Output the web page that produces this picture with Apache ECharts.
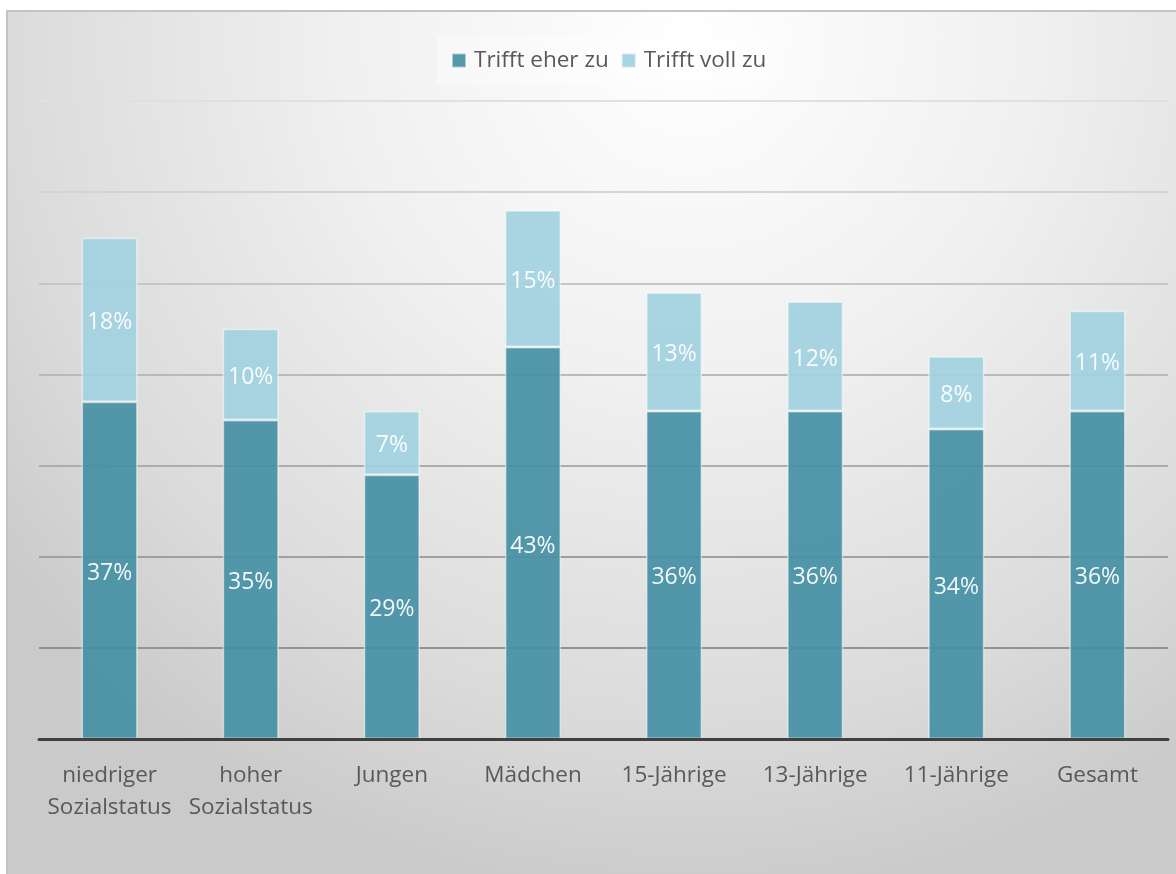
<!DOCTYPE html>
<html>
<head>
<meta charset="utf-8">
<script src="https://cdn.jsdelivr.net/npm/echarts@6/dist/echarts.min.js"></script>
<style>
  html, body { margin: 0; padding: 0; background: #ffffff; }
  #chart { width: 1176px; height: 874px; }
</style>
</head>
<body>
<div id="chart"></div>
<script>
// Zustimmung nach Gruppen, gestapelt: "Trifft eher zu" + "Trifft voll zu" (Prozent)
const categories = ['niedriger\nSozialstatus', 'hoher\nSozialstatus', 'Jungen', 'Mädchen',
                    '15-Jährige', '13-Jährige', '11-Jährige', 'Gesamt'];
const eherZu = [37, 35, 29, 43, 36, 36, 34, 36];
const vollZu = [18, 10, 7, 15, 13, 12, 8, 11];
const seriesNames = ['Trifft eher zu', 'Trifft voll zu'];

const FONT = '"Open Sans", "Noto Sans", sans-serif';
const chart = echarts.init(document.getElementById('chart'), null, { renderer: 'canvas' });

const pct = p => p.value + '%';

const valueLabel = {
  show: true,
  position: 'inside',
  formatter: pct,
  fontFamily: FONT,
  fontSize: 23,
  color: '#ffffff',
  offset: [0, 3]
};

chart.setOption({
  animation: false,
  textStyle: { fontFamily: FONT },
  graphic: [
    {
      type: 'rect',
      z: -10,
      silent: true,
      shape: { x: 7, y: 11, width: 1175, height: 870 },
      style: {
        fill: new echarts.graphic.RadialGradient(0.58, 0.03, 1.0, [
          { offset: 0, color: '#ffffff' },
          { offset: 0.4, color: '#f0f0f0' },
          { offset: 0.78, color: '#dbdbdb' },
          { offset: 1, color: '#cacaca' }
        ]),
        stroke: '#c4c4c4',
        lineWidth: 2
      }
    }
  ],
  legend: {
    top: 36,
    left: 437,
    data: seriesNames,
    icon: 'rect',
    itemWidth: 14,
    itemHeight: 14,
    itemGap: 12,
    padding: [13, 4, 13, 14],
    backgroundColor: 'rgba(255,255,255,0.35)',
    textStyle: { fontFamily: FONT, fontSize: 22.5, color: '#595959', padding: [0, 0, 0, 3] }
  },
  grid: { left: 39, right: 8, top: 101, bottom: 135, containLabel: false },
  xAxis: {
    type: 'category',
    data: categories,
    axisLine: { lineStyle: { color: '#404040', width: 3 } },
    axisTick: { show: false },
    axisLabel: {
      interval: 0,
      margin: 21,
      fontFamily: FONT,
      fontSize: 22.5,
      lineHeight: 32,
      color: '#595959'
    },
    z: 10
  },
  yAxis: {
    type: 'value',
    min: 0,
    max: 70,
    interval: 10,
    axisLine: { show: false },
    axisTick: { show: false },
    axisLabel: { show: false },
    splitLine: {
      lineStyle: {
        width: 2,
        color: new echarts.graphic.LinearGradient(0, 101, 0, 739, [
          { offset: 0, color: '#e0e0e0' },
          { offset: 1, color: '#868686' }
        ], true)
      }
    }
  },
  series: [
    {
      name: seriesNames[0],
      type: 'bar',
      stack: 'total',
      data: eherZu,
      barWidth: 56,
      itemStyle: {
        color: '#4690a5',
        opacity: 0.93,
        borderColor: 'rgba(255,255,255,0.55)',
        borderWidth: 1.5
      },
      label: valueLabel
    },
    {
      name: seriesNames[1],
      type: 'bar',
      stack: 'total',
      data: vollZu,
      barWidth: 56,
      itemStyle: {
        color: '#a1d2df',
        opacity: 0.93,
        borderColor: 'rgba(255,255,255,0.55)',
        borderWidth: 1.5
      },
      label: valueLabel
    }
  ]
});
</script>
</body>
</html>
